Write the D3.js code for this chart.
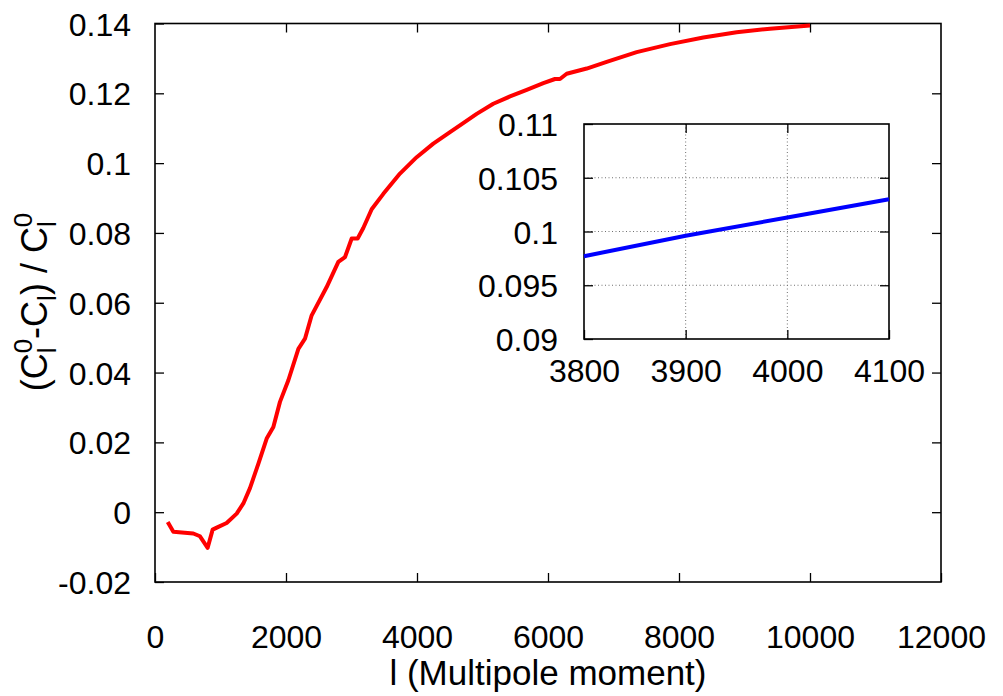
<!DOCTYPE html>
<html>
<head>
<meta charset="utf-8">
<script src="https://cdn.jsdelivr.net/npm/d3@7"></script>
<style>
  html, body { margin: 0; padding: 0; background: #fff; }
  svg { display: block; }
  text { font-family: "Liberation Sans", Arial, Helvetica, sans-serif; fill: #000; }
</style>
</head>
<body>
<svg id="chart" width="1003" height="696"></svg>
<script>
// Relative change of the angular power spectrum vs multipole moment
const multipole = [194, 280, 585, 687, 804, 880, 967, 1094, 1247, 1349, 1450, 1580,
  1705, 1807, 1908, 2036, 2189, 2290, 2392, 2621, 2799, 2901, 3003, 3094, 3180,
  3308, 3486, 3740, 3995, 4249, 4504, 4700, 4911, 5165, 5420, 5675, 5929, 6107, 6183,
  6285, 6591, 6896, 7354, 7863, 8371, 8880, 9389, 10000];
const relChange = [-0.0028, -0.0056, -0.0061, -0.0069, -0.0102, -0.0050, -0.0042, -0.0031,
  -0.0004, 0.0025, 0.0069, 0.0140, 0.0211, 0.0244, 0.0316, 0.0378, 0.0468, 0.0497,
  0.0564, 0.0645, 0.0717, 0.0731, 0.0784, 0.0784, 0.0814, 0.0868, 0.0912, 0.0970,
  0.1017, 0.1056, 0.1089, 0.1114, 0.1141, 0.1170, 0.1191, 0.1210, 0.1229, 0.1241, 0.1241,
  0.1256, 0.1271, 0.1290, 0.1318, 0.1341, 0.1360, 0.1375, 0.1385, 0.1394];

// Zoomed detail around l = 3800..4100
const insetMultipole = [3800, 3900, 4000, 4100];
const insetRelChange = [0.0977, 0.0996, 0.1013, 0.1030];

const xTicks = [0, 2000, 4000, 6000, 8000, 10000, 12000];
const yTicks = [-0.02, 0, 0.02, 0.04, 0.06, 0.08, 0.1, 0.12, 0.14];
const insetXTicks = [3800, 3900, 4000, 4100];
const insetYTicks = [0.09, 0.095, 0.1, 0.105, 0.11];

const fmt = v => String(+v.toFixed(3));

const svg = d3.select("#chart");

// ---------- main panel ----------
const M = { left: 155, right: 941, top: 23.5, bottom: 582 };
const x = d3.scaleLinear().domain([0, 12000]).range([M.left, M.right]);
const y = d3.scaleLinear().domain([-0.02, 0.14]).range([M.bottom, M.top]);
const TICK = 9;

function styleAxis(g) {
  g.select(".domain").remove();
  g.selectAll(".tick line").attr("stroke", "#000").attr("stroke-width", 1.3);
}

// bottom axis with labels
svg.append("g")
  .attr("transform", `translate(0,${M.bottom})`)
  .call(d3.axisBottom(x).tickValues(xTicks).tickSize(-TICK).tickFormat(fmt))
  .call(styleAxis)
  .call(g => g.selectAll(".tick text")
    .attr("y", 66).attr("dy", null)
    .attr("font-size", 32));
// top mirror ticks
svg.append("g")
  .attr("transform", `translate(0,${M.top})`)
  .call(d3.axisTop(x).tickValues(xTicks.slice(1, -1)).tickSize(-TICK).tickFormat(""))
  .call(styleAxis);
// left axis with labels
svg.append("g")
  .attr("transform", `translate(${M.left},0)`)
  .call(d3.axisLeft(y).tickValues(yTicks).tickSize(-TICK).tickFormat(fmt))
  .call(styleAxis)
  .call(g => g.selectAll(".tick text")
    .attr("x", -24).attr("dy", "0.36em")
    .attr("font-size", 32));
// right mirror ticks
svg.append("g")
  .attr("transform", `translate(${M.right},0)`)
  .call(d3.axisRight(y).tickValues(yTicks.slice(1, -1)).tickSize(-TICK).tickFormat(""))
  .call(styleAxis);

svg.append("rect")
  .attr("x", M.left).attr("y", M.top)
  .attr("width", M.right - M.left).attr("height", M.bottom - M.top)
  .attr("fill", "none").attr("stroke", "#000").attr("stroke-width", 1.6);

const mainLine = d3.line()
  .x((d, i) => x(multipole[i]))
  .y((d, i) => y(relChange[i]));
svg.append("path")
  .datum(relChange)
  .attr("d", mainLine)
  .attr("fill", "none")
  .attr("stroke", "#ff0000")
  .attr("stroke-width", 4)
  .attr("stroke-linejoin", "round");

// axis titles
svg.append("text")
  .attr("x", 548).attr("y", 685)
  .attr("text-anchor", "middle")
  .attr("font-size", 35)
  .text("l (Multipole moment)");

const yTitle = svg.append("text")
  .attr("transform", "translate(47,302) rotate(-90)")
  .attr("text-anchor", "middle")
  .attr("font-size", 36);
const SUB = 26;
yTitle.append("tspan").text("(C");
yTitle.append("tspan").attr("font-size", SUB).attr("dy", 9).text("l");
yTitle.append("tspan").attr("font-size", SUB).attr("dx", -5.8).attr("dy", -24).text("0");
yTitle.append("tspan").attr("dy", 15).text("-C");
yTitle.append("tspan").attr("font-size", SUB).attr("dy", 9).text("l");
yTitle.append("tspan").attr("dy", -9).text(") / C");
yTitle.append("tspan").attr("font-size", SUB).attr("dy", 9).text("l");
yTitle.append("tspan").attr("font-size", SUB).attr("dx", -5.8).attr("dy", -24).text("0");

// ---------- inset panel ----------
const I = { left: 584, right: 889, top: 124, bottom: 339 };
const xi = d3.scaleLinear().domain([3800, 4100]).range([I.left, I.right]);
const yi = d3.scaleLinear().domain([0.09, 0.11]).range([I.bottom, I.top]);

// dotted grid
const grid = svg.append("g");
grid.selectAll("line.gx")
  .data(insetXTicks.slice(1, -1))
  .join("line")
  .attr("x1", d => xi(d)).attr("x2", d => xi(d))
  .attr("y1", I.top).attr("y2", I.bottom);
grid.selectAll("line.gy")
  .data(insetYTicks.slice(1, -1))
  .join("line")
  .attr("x1", I.left).attr("x2", I.right)
  .attr("y1", d => yi(d)).attr("y2", d => yi(d));
grid.selectAll("line")
  .attr("stroke", "#707070")
  .attr("stroke-width", 1)
  .attr("stroke-dasharray", "1,2.5");

svg.append("g")
  .attr("transform", `translate(0,${I.bottom})`)
  .call(d3.axisBottom(xi).tickValues(insetXTicks).tickSize(-TICK).tickFormat(fmt))
  .call(styleAxis)
  .call(g => g.selectAll(".tick text")
    .attr("y", 43).attr("dy", null)
    .attr("font-size", 32));
svg.append("g")
  .attr("transform", `translate(0,${I.top})`)
  .call(d3.axisTop(xi).tickValues(insetXTicks.slice(1, -1)).tickSize(-TICK).tickFormat(""))
  .call(styleAxis);
svg.append("g")
  .attr("transform", `translate(${I.left},0)`)
  .call(d3.axisLeft(yi).tickValues(insetYTicks).tickSize(-TICK).tickFormat(fmt))
  .call(styleAxis)
  .call(g => g.selectAll(".tick text")
    .attr("x", -26).attr("dy", "0.36em")
    .attr("font-size", 32));
svg.append("g")
  .attr("transform", `translate(${I.right},0)`)
  .call(d3.axisRight(yi).tickValues(insetYTicks.slice(1, -1)).tickSize(-TICK).tickFormat(""))
  .call(styleAxis);

svg.append("rect")
  .attr("x", I.left).attr("y", I.top)
  .attr("width", I.right - I.left).attr("height", I.bottom - I.top)
  .attr("fill", "none").attr("stroke", "#000").attr("stroke-width", 1.6);

const insetLine = d3.line()
  .x((d, i) => xi(insetMultipole[i]))
  .y((d, i) => yi(insetRelChange[i]));
svg.append("path")
  .datum(insetRelChange)
  .attr("d", insetLine)
  .attr("fill", "none")
  .attr("stroke", "#0000ff")
  .attr("stroke-width", 4);
</script>
</body>
</html>
